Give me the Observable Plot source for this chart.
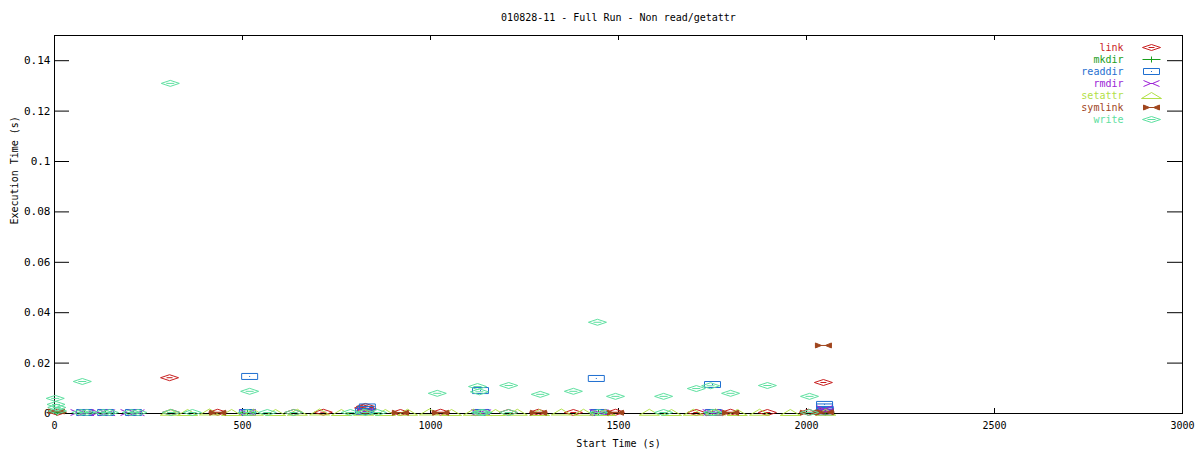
<!DOCTYPE html>
<html><head><meta charset="utf-8">
<script src="https://cdn.jsdelivr.net/npm/d3@7"></script>
<script src="https://cdn.jsdelivr.net/npm/@observablehq/plot@0.6"></script>
<style>html,body{margin:0;padding:0;background:#fff;} #chart svg{display:block}</style>
</head><body><div id="chart"></div>
<script>
const title = "010828-11 - Full Run - Non read/getattr";
const xLabel = "Start Time (s)";
const yLabel = "Execution Time (s)";
const xTicks = [0, 500, 1000, 1500, 2000, 2500, 3000];
const yTicks = [0, 0.02, 0.04, 0.06, 0.08, 0.1, 0.12, 0.14];
const ops = ["link", "mkdir", "readdir", "rmdir", "setattr", "symlink", "write"];
const opColors = ["#c81e1e", "#1a9e1a", "#1f6fd0", "#9b1fd6", "#b2e048", "#a0461e", "#5ee0a0"];

const linkTime  = [8, 306, 310, 434, 636, 715, 822, 827, 832, 827, 920, 1027, 1207, 1287, 1380, 1492, 1707, 1798, 1896, 2005, 2045, 2045, 2050];
const linkValue = [0.0005, 0.0142, 0.0004, 0.0005, 0.0004, 0.0005, 0.0022, 0.0028, 0.0018, 0.001, 0.0004, 0.0005, 0.0004, 0.0005, 0.0004, 0.0005, 0.0004, 0.0005, 0.0004, 0.0005, 0.0123, 0.0012, 0.0006];

const mkdirTime  = [6, 80, 136, 210, 513, 827, 1133, 1447, 1750, 2050];
const mkdirValue = [0.0003, 0.0003, 0.0003, 0.0003, 0.0003, 0.0003, 0.0003, 0.0003, 0.0003, 0.0003];

const readdirTime  = [80, 136, 210, 519, 513, 822, 827, 832, 1133, 1135, 1441, 1447, 1750, 1752, 2048, 2048, 2050, 2050];
const readdirValue = [0.0004, 0.0004, 0.0004, 0.0147, 0.0004, 0.0008, 0.0016, 0.0026, 0.0091, 0.0004, 0.0139, 0.0004, 0.0115, 0.0004, 0.0036, 0.0026, 0.0016, 0.0006];

const rmdirTime  = [64, 84, 120, 140, 197, 218, 513, 827, 1130, 1140, 1444, 1452, 1745, 1755, 2048, 2052];
const rmdirValue = [0.0004, 0.0003, 0.0004, 0.0003, 0.0004, 0.0003, 0.0004, 0.0008, 0.0004, 0.0003, 0.0004, 0.0003, 0.0004, 0.0003, 0.0019, 0.0009];

const setattrTime  = [308, 354, 412, 471, 529, 588, 646, 705, 763, 822, 880, 939, 997, 1056, 1114, 1173, 1231, 1290, 1348, 1407, 1465, 1582, 1641, 1699, 1758, 1816, 1875, 1957, 2051];
const setattrValue = [0.0005, 0.0004, 0.0006, 0.0004, 0.0005, 0.0004, 0.0005, 0.0006, 0.0004, 0.0005, 0.0004, 0.0005, 0.0006, 0.0004, 0.0005, 0.0004, 0.0005, 0.0004, 0.0006, 0.0005, 0.0004, 0.0005, 0.0004, 0.0005, 0.0006, 0.0004, 0.0005, 0.0004, 0.0005];

const symlinkTime  = [5, 434, 920, 1027, 1287, 1492, 1798, 2005, 2045, 2050];
const symlinkValue = [0.0008, 0.0003, 0.0003, 0.0003, 0.0003, 0.0003, 0.0003, 0.0003, 0.027, 0.0005];

const writeTime  = [2, 4, 6, 8, 74, 70, 86, 130, 146, 204, 222, 308, 310, 367, 519, 513, 566, 636, 787, 827, 859, 1018, 1125, 1130, 1133, 1140, 1208, 1208, 1292, 1380, 1444, 1447, 1492, 1620, 1620, 1707, 1745, 1750, 1798, 1896, 2008, 2008];
const writeValue = [0.006, 0.0036, 0.0024, 0.001, 0.0127, 0.0004, 0.0004, 0.0004, 0.0004, 0.0004, 0.0004, 0.131, 0.0004, 0.0004, 0.0088, 0.0004, 0.0004, 0.0004, 0.0004, 0.0004, 0.0004, 0.008, 0.0107, 0.0086, 0.0004, 0.0004, 0.0111, 0.0004, 0.0076, 0.0088, 0.0362, 0.0004, 0.0068, 0.0068, 0.0004, 0.0099, 0.011, 0.0004, 0.008, 0.0111, 0.0068, 0.0004];

const seriesTimes = [linkTime, mkdirTime, readdirTime, rmdirTime, setattrTime, symlinkTime, writeTime];
const seriesValues = [linkValue, mkdirValue, readdirValue, rmdirValue, setattrValue, symlinkValue, writeValue];

// marker shapes (gnuplot-like wide point types)
const shapes = {
  link:    [[[-9,0],[0,-3],[9,0],[0,3],"z"], [[-3,0],[3,0]]],
  mkdir:   [[[-9,0],[9,0]], [[0,-3],[0,3]]],
  readdir: [[[-8,-3],[8,-3],[8,3],[-8,3],"z"], [[-0.5,0],[0.5,0]]],
  rmdir:   [[[-8,-3],[-1,0],[-8,3]], [[8,-3],[1,0],[8,3]], [[-2,0],[2,0]]],
  setattr: [[[-10,3],[0,-3],[10,3],"z"]],
  symlink: [[[-8,-2.5],[-8,2.5],[-2,0],"z"], [[8,-2.5],[8,2.5],[2,0],"z"], [[-8,0],[8,0]]],
  write:   [[[-9,0],[0,-3],[9,0],[0,3],"z"], [[-4,0],[4,0]]]
};
function makeSymbol(polys) {
  return {draw(ctx) {
    for (const p of polys) {
      let first = true;
      for (const pt of p) {
        if (pt === "z") { ctx.closePath(); continue; }
        if (first) { ctx.moveTo(pt[0], pt[1]); first = false; } else ctx.lineTo(pt[0], pt[1]);
      }
    }
  }};
}

const W = 1200, H = 450, mL = 54, mR = 18, mT = 35, mB = 37;
const pw = W - mL - mR, ph = H - mT - mB;
const font = "'DejaVu Sans Mono', monospace";

const pointMarks = ops.map((op, i) => {
  const rows = seriesTimes[i].map((t, j) => ({t, v: seriesValues[i][j]}));
  return Plot.dot(rows, {
    x: "t", y: "v", symbol: makeSymbol(shapes[op]),
    stroke: opColors[i], fill: op === "symlink" ? opColors[i] : "none", strokeWidth: 1
  });
});

const legendMarks = ops.flatMap((op, i) => [
  Plot.text([op], {frameAnchor: "top-right", lineAnchor: "middle", dx: -59, dy: 12 + 12 * i, text: d => d,
    fill: opColors[i], textAnchor: "end", fontSize: 10, fontFamily: font}),
  Plot.dot([op], {frameAnchor: "top-right", dx: -31, dy: 12 + 12 * i, symbol: makeSymbol(shapes[op]),
    stroke: opColors[i], fill: op === "symlink" ? opColors[i] : "none", strokeWidth: 1})
]);

const chart = Plot.plot({
  width: W, height: H,
  marginLeft: mL, marginRight: mR, marginTop: mT, marginBottom: mB,
  style: {fontFamily: font, fontSize: "10px", background: "#fff", color: "#000"},
  x: {domain: [0, 3000]},
  y: {domain: [0, 0.15]},
  marks: [
    Plot.ruleY(yTicks.filter(d => d > 0), {insetRight: pw - 15, stroke: "#000"}),
    Plot.ruleY(yTicks.filter(d => d > 0), {insetLeft: pw - 15, stroke: "#000"}),
    Plot.ruleX(xTicks.filter(d => d > 0 && d < 3000), {insetTop: ph - 5, stroke: "#000"}),
    Plot.ruleX(xTicks.filter(d => d > 0 && d < 3000), {insetBottom: ph - 5, stroke: "#000"}),
    Plot.frame({stroke: "#000"}),
    Plot.axisY({ticks: yTicks, tickSize: 0, tickPadding: 4, tickFormat: d => String(d), label: null, fontSize: 11, fontFamily: font}),
    Plot.axisX({ticks: xTicks, tickSize: 0, tickPadding: 8, tickFormat: d => String(d), label: null, fontSize: 10, fontFamily: font}),
    ...pointMarks,
    ...legendMarks,
    Plot.text([title], {frameAnchor: "top", lineAnchor: "middle", dy: -18, text: d => d, fontSize: 10, fontFamily: font}),
    Plot.text([xLabel], {frameAnchor: "bottom", lineAnchor: "middle", dy: 30, text: d => d, fontSize: 10, fontFamily: font}),
    Plot.text([yLabel], {frameAnchor: "left", lineAnchor: "middle", dx: -40, rotate: -90, text: d => d, fontSize: 10, fontFamily: font})
  ]
});
document.getElementById("chart").appendChild(chart);
</script>
</body></html>
